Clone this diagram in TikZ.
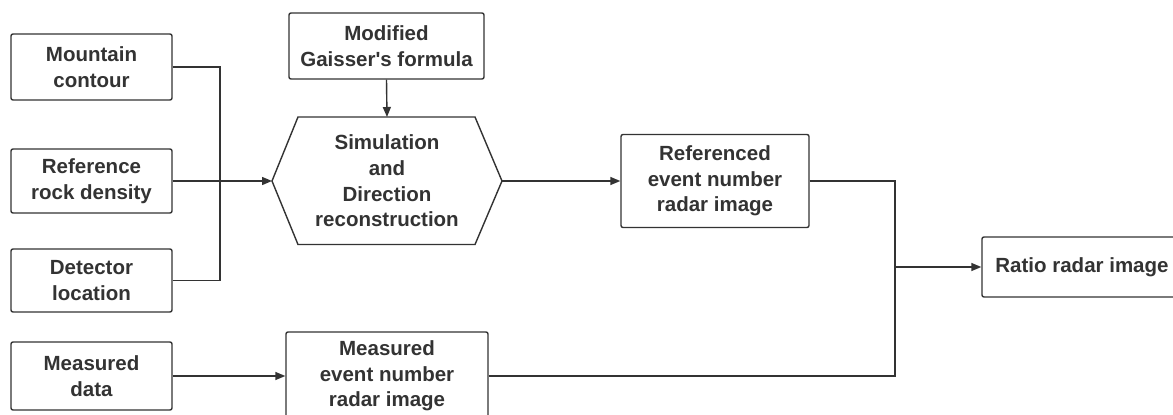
\documentclass[tikz,border=0pt]{standalone}
\usepackage{fontspec}
\newfontfamily\lab{Liberation Sans}
\usetikzlibrary{arrows.meta}
\definecolor{ink}{HTML}{333333}
\tikzset{
  lbl/.style={text=ink, font=\lab\bfseries\fontsize{20.5}{25.7}\selectfont,
    align=center, inner sep=0pt},
  box/.style={lbl, draw=ink, line width=1.4pt, rounded corners=2pt, anchor=center},
  conn/.style={draw=ink, line width=1.4pt},
  arr/.style={conn, -{Triangle[length=10pt,width=8pt]}}
}
\begin{document}
\begin{tikzpicture}[x=1pt,y=-1pt]
\useasboundingbox (0,0) rectangle (1173,415);
\clip (0,0) rectangle (1173,415);
\fill[white] (0,0) rectangle (1173,415);
% left inputs
\node[box, minimum width=161pt, minimum height=66pt] (mc) at (91.5,67) {Mountain\\contour};
\node[box, minimum width=161pt, minimum height=64pt] (rd) at (91.5,181) {Reference\\rock density};
\node[box, minimum width=161pt, minimum height=63pt] (dl) at (91.5,280.5) {Detector\\location};
\node[box, minimum width=161pt, minimum height=68pt] (md) at (91.5,376) {Measured\\data};
% top formula
\node[box, minimum width=195pt, minimum height=66pt] (mg) at (386.5,46) {Modified\\Gaisser's formula};
% hexagon
\node[lbl] (hex) at (387,181) {Simulation\\and\\Direction\\reconstruction};
\coordinate (hw) at (272,181);
\coordinate (he) at (502,181);
\coordinate (hn) at (387,117);
\draw[conn, line join=miter] (hw) -- (298,117) -- (475,117) -- (he) -- (475,244.5) -- (298,244.5) -- cycle;
% referenced
\node[box, minimum width=188pt, minimum height=93pt] (ref) at (715,181) {Referenced\\event number\\radar image};
% measured event
\node[box, minimum width=202pt, minimum height=88pt] (mev) at (387,376) {Measured\\event number\\radar image};
% ratio
\node[box, minimum width=200pt, minimum height=60pt] (ratio) at (1082,267) {Ratio radar image};
% junctions
\coordinate (j1) at (220,181);
\coordinate (j2) at (895,267);
% connectors
\draw[conn] (mc.east) -| (j1);
\draw[conn] (dl.east) -| (j1);
\draw[arr] (rd.east) -- (hw);
\draw[arr] (mg.south) -- (hn);
\draw[arr] (he) -- (ref.west);
\draw[arr] (md.east) -- (mev.west);
\draw[conn] (ref.east) -| (j2);
\draw[conn] (mev.east) -| (j2);
\draw[arr] (j2) -- (ratio.west);
\end{tikzpicture}
\end{document}
